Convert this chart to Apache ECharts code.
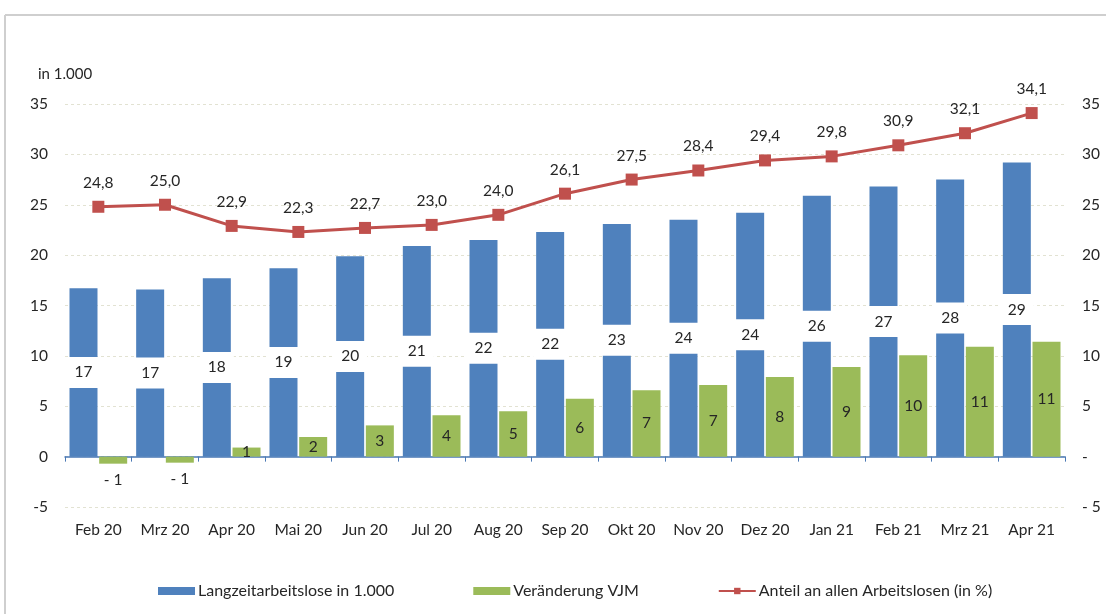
<!DOCTYPE html>
<html><head><meta charset="utf-8">
<script src="https://cdn.jsdelivr.net/npm/echarts@6/dist/echarts.min.js"></script>
<style>html,body{margin:0;padding:0;background:#fff}#c{width:1106px;height:614px}</style>
</head><body><div id="c"></div>
<script>
const categories = ['Feb 20','Mrz 20','Apr 20','Mai 20','Jun 20','Jul 20','Aug 20','Sep 20','Okt 20','Nov 20','Dez 20','Jan 21','Feb 21','Mrz 21','Apr 21'];
const langzeit = [16.7,16.6,17.7,18.7,19.9,20.9,21.5,22.3,23.1,23.5,24.2,25.9,26.8,27.5,29.2];
const veraenderung = [-0.7,-0.6,0.9,1.95,3.1,4.1,4.5,5.75,6.6,7.1,7.9,8.9,10.05,10.9,11.4];
const anteil = [24.8,25.0,22.9,22.3,22.7,23.0,24.0,26.1,27.5,28.4,29.4,29.8,30.9,32.1,34.1];
const seriesNames = ['Langzeitarbeitslose in 1.000','Veränderung VJM','Anteil an allen Arbeitslosen (in %)'];
const axisUnit = 'in 1.000';

const FONT = 'Lato';
const TXT = '#262626';
const chart = echarts.init(document.getElementById('c'), null, {renderer:'canvas'});
chart.setOption({
  animation:false,
  textStyle:{fontFamily:FONT},
  graphic:[
    {type:'line', shape:{x1:5,y1:15,x2:1106,y2:15}, style:{stroke:'#cfcfcf', lineWidth:2}},
    {type:'line', shape:{x1:5,y1:15,x2:5,y2:614}, style:{stroke:'#cfcfcf', lineWidth:2}}
  ],
  grid:{left:65, right:41, top:104, bottom:107, containLabel:false},
  legend:{
    left:153, top:578, itemGap:79, itemWidth:37, itemHeight:8,
    textStyle:{fontFamily:FONT, fontSize:16, color:TXT, padding:[0,0,0,-2]},
    data:[
      {name:seriesNames[0], icon:'rect'},
      {name:seriesNames[1], icon:'rect'},
      {name:seriesNames[2]}
    ]
  },
  xAxis:{
    type:'category', data:categories,
    axisLine:{onZero:true, lineStyle:{color:'#4a78b5', width:1.5}},
    axisTick:{show:true, length:5, inside:false, lineStyle:{color:'#4a78b5'}},
    axisLabel:{margin:15, fontSize:15.5, color:TXT, fontFamily:FONT, interval:0}
  },
  yAxis:[
    {type:'value', min:-5, max:35, interval:5, name:axisUnit,
     nameLocation:'end', nameGap:22,
     nameTextStyle:{fontSize:15, color:TXT, fontFamily:FONT, align:'left', padding:[0,0,0,-27]},
     axisLine:{show:false}, axisTick:{show:false},
     axisLabel:{margin:17, fontSize:15.5, color:TXT, fontFamily:FONT},
     splitLine:{show:true, lineStyle:{color:'#e2e2d2', type:[3,3], width:1}}},
    {type:'value', min:-5, max:35, interval:5, position:'right',
     axisLine:{show:false}, axisTick:{show:false}, splitLine:{show:false},
     axisLabel:{margin:17, fontSize:15.5, color:TXT, fontFamily:FONT,
       formatter:v => v===0 ? '-' : (v<0 ? '- '+Math.abs(v) : String(v))}}
  ],
  series:[
    {name:seriesNames[0], type:'bar', data:langzeit, barWidth:28, barGap:'6%',
     itemStyle:{color:'#4f81bd'},
     label:{show:true, position:'inside', color:TXT, fontSize:15.5, fontFamily:FONT,
       backgroundColor:'#ffffff', padding:[8,8,7,8],
       formatter:p => String(Math.round(p.value))}},
    {name:seriesNames[1], type:'bar', barWidth:28,
     data:veraenderung.map(v => v<0 ? {value:v, label:{position:'bottom', distance:8}} : v),
     itemStyle:{color:'#9bbb59'},
     label:{show:true, position:'inside', color:TXT, fontSize:15.5, fontFamily:FONT,
       formatter:p => p.value<0 ? '- '+Math.abs(Math.round(p.value)) : String(Math.round(p.value))}},
    {name:seriesNames[2], type:'line', yAxisIndex:1, data:anteil,
     symbol:'rect', symbolSize:12, z:5,
     lineStyle:{color:'#c0504d', width:3}, itemStyle:{color:'#c0504d'},
     label:{show:true, position:'top', distance:10, color:TXT, fontSize:15.5, fontFamily:FONT,
       formatter:p => p.value.toFixed(1).replace('.',',')}}
  ]
});
</script></body></html>
